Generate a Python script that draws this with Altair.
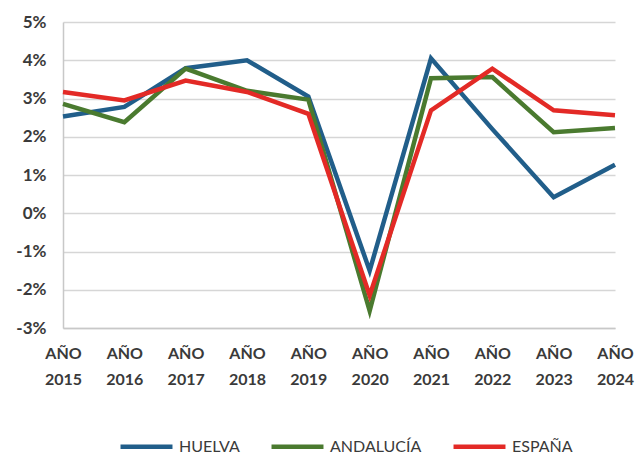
import altair as alt
import pandas as pd

years = ["2015", "2016", "2017", "2018", "2019", "2020", "2021", "2022", "2023", "2024"]
huelva = [2.53, 2.78, 3.79, 4.0, 3.05, -1.5, 4.05, 2.2, 0.42, 1.27]
andalucia = [2.86, 2.38, 3.78, 3.2, 2.97, -2.55, 3.53, 3.56, 2.12, 2.23]
espana = [3.17, 2.95, 3.47, 3.17, 2.6, -2.15, 2.69, 3.78, 2.69, 2.56]
series = ["HUELVA", "ANDALUCÍA", "ESPAÑA"]
colors = ["#215e8a", "#4a7a2f", "#e32a26"]

rows = []
for name, vals in zip(series, [huelva, andalucia, espana]):
    for y, v in zip(years, vals):
        rows.append({"year": y, "value": v, "serie": name})
df = pd.DataFrame(rows)

FONT = "Lato"

chart = alt.Chart(df).mark_line(strokeWidth=4.5, strokeJoin="miter").encode(
    x=alt.X("year:O", scale=alt.Scale(padding=0),
            axis=alt.Axis(title=None, labelAngle=0, labelExpr="['AÑO', datum.label]",
                          labelFont=FONT, labelFontSize=16, labelFontWeight="bold",
                          labelColor="#3a3a3a", labelPadding=17, labelLineHeight=26,
                          ticks=False, domainColor="#c8c8c8", domainWidth=1.5, grid=False)),
    y=alt.Y("value:Q", scale=alt.Scale(domain=[-3, 5], nice=False),
            axis=alt.Axis(title=None, values=list(range(-3, 6)), labelExpr="datum.value + '%'",
                          labelFont=FONT, labelFontSize=17, labelFontWeight="bold",
                          labelColor="#3a3a3a", labelPadding=17, ticks=False,
                          domainColor="#c8c8c8", domainWidth=1.5,
                          gridColor="#d6d6d6", gridWidth=1.5)),
    color=alt.Color("serie:N", sort=series,
                    scale=alt.Scale(domain=series, range=colors),
                    legend=alt.Legend(title=None, orient="none", direction="horizontal",
                                      legendX=55, legendY=396, symbolType="stroke",
                                      symbolSize=2700, symbolStrokeWidth=4.5,
                                      labelFont=FONT, labelFontSize=16, labelColor="#3a3a3a",
                                      labelFontWeight="normal", columnPadding=22,
                                      labelOffset=4)),
).properties(
    width=552, height=306,
    autosize=alt.AutoSizeParams(type="none"),
    padding={"left": 55, "top": 14, "right": 20, "bottom": 130},
).configure_view(stroke=None)

chart.save("out.html", embed_options={"renderer": "svg", "actions": False})
